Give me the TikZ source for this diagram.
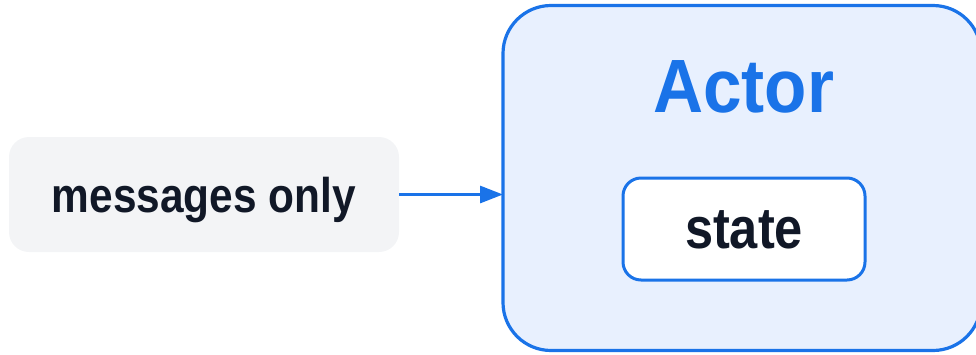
\documentclass[tikz,border=0pt]{standalone}
\usepackage{fontspec}
\usepackage{graphicx}
\setmainfont{Liberation Sans}
\usetikzlibrary{arrows.meta}

\definecolor{accent}{HTML}{1A73E8}
\definecolor{accentfill}{HTML}{E8F0FE}
\definecolor{inkdark}{HTML}{111827}
\definecolor{softgray}{HTML}{F3F4F6}

% bold label fitted to a given width, slightly stretched vertically
\newcommand\fitlabel[3]{\resizebox{#1}{!}{\scalebox{1}[#2]{\fontsize{50}{60}\selectfont\bfseries #3}}}

\tikzset{
  panel/.style={rounded corners=#1, inner sep=0pt, outer sep=0pt},
  msgbox/.style={panel=20pt, fill=softgray},
  actorbox/.style={panel=48pt, fill=accentfill, draw=accent, line width=3.2pt},
  statebox/.style={panel=18pt, fill=white, draw=accent, line width=3pt},
  flow/.style={draw=accent, line width=3pt, -{Triangle[length=23pt,width=17pt]}},
  txt/.style={anchor=base, inner sep=0pt, outer sep=0pt}
}

\begin{document}
\begin{tikzpicture}[x=1pt,y=-1pt]
  \useasboundingbox (0,0) rectangle (976,354);
  \clip (0,0) rectangle (976,354);

  % left message box
  \node[msgbox, minimum width=390pt, minimum height=115pt] (msg) at (204,194.5) {};
  \node[txt, text=inkdark] (msglabel) at (204,212) {\fitlabel{304pt}{1.15}{messages only}};

  % actor container (runs past the right edge)
  \node[actorbox, minimum width=478pt, minimum height=345pt] (actor) at (742,178) {};
  \node[txt, text=accent] (actorlabel) at (743.5,112) {\fitlabel{181pt}{1.09}{Actor}};

  % inner state box
  \node[statebox, minimum width=242pt, minimum height=102pt] (state) at (744,229) {};
  \node[txt, text=inkdark] (statelabel) at (744,248) {\fitlabel{118pt}{1.15}{state}};

  % message flow
  \draw[flow] (msg.east) -- (msg.east -| actor.west);
\end{tikzpicture}
\end{document}
